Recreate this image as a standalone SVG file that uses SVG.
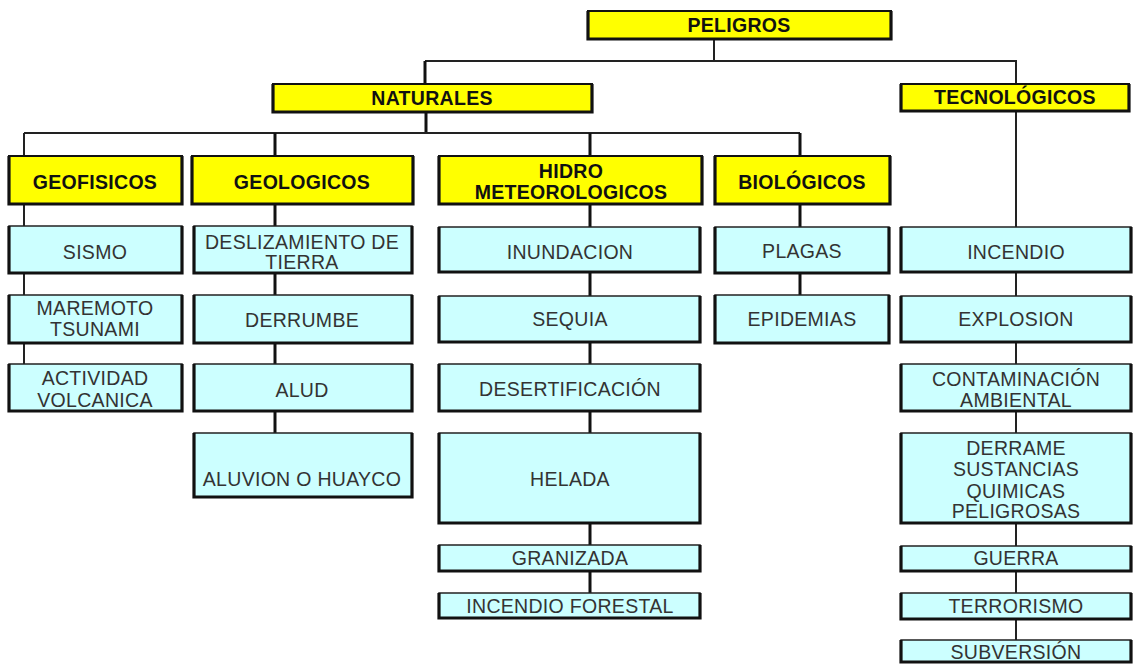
<svg xmlns="http://www.w3.org/2000/svg" width="1134" height="664" viewBox="0 0 1134 664">
<style>
.bg{fill:#ffffff}
.h rect{fill:#ffff00;stroke:#111;stroke-width:2}
.c rect{fill:#ccffff;stroke:#222;stroke-width:1.5}
.edge{fill:none;stroke:#111;stroke-width:3.2}
.h text{font-family:"Liberation Sans",Arial,sans-serif;font-size:19.5px;font-weight:bold;fill:#111;text-anchor:middle;letter-spacing:0.3px}
.c text{font-family:"Liberation Sans",Arial,sans-serif;font-size:19.5px;fill:#333;text-anchor:middle;letter-spacing:0.3px}
.thin{fill:none;stroke:#222;stroke-width:2}
.thick{fill:none;stroke:#111;stroke-width:3}
</style>
<rect class="bg" x="0" y="0" width="1134" height="664"/>
<g id="connectors">
<path class="thin" d="M714,39 V61 M425,61 H1016 V84"/>
<path class="thick" d="M425,61 V84"/>
<path class="thick" d="M426,112 V133"/>
<path class="thin" d="M24,133 H800"/>
<path class="thin" d="M24,133 V156"/>
<path class="thick" d="M275,133 V156 M590,133 V156 M800,133 V156"/>
<path class="thin" d="M24,204 V364"/>
<path class="thick" d="M275,204 V433"/>
<path class="thick" d="M590,204 V593"/>
<path class="thick" d="M800,204 V295"/>
<path class="thin" d="M1016,111 V640"/>
</g>
<g id="peligros" class="h"><rect x="588" y="11" width="303" height="28"/><path class="edge" d="M588,11 V39 H891 V11"/><text x="739" y="32">PELIGROS</text></g>
<g id="naturales" class="h"><rect x="273" y="84" width="319" height="28"/><path class="edge" d="M273,84 V112 H592 V84"/><text x="432" y="105">NATURALES</text></g>
<g id="tecnologicos" class="h"><rect x="901" y="84" width="228" height="27"/><path class="edge" d="M901,84 V111 H1129 V84"/><text x="1015" y="104">TECNOLÓGICOS</text></g>
<g id="geofisicos" class="h"><rect x="9" y="156" width="173" height="48"/><path class="edge" d="M9,156 V204 H182 V156"/><text x="95" y="189">GEOFISICOS</text></g>
<g id="geologicos" class="h"><rect x="192" y="156" width="221" height="48"/><path class="edge" d="M192,156 V204 H413 V156"/><text x="302" y="189">GEOLOGICOS</text></g>
<g id="hidro" class="h"><rect x="439" y="156" width="263" height="48"/><path class="edge" d="M439,156 V204 H702 V156"/><text x="571" y="178">HIDRO</text><text x="571" y="199">METEOROLOGICOS</text></g>
<g id="biologicos" class="h"><rect x="715" y="156" width="175" height="48"/><path class="edge" d="M715,156 V204 H890 V156"/><text x="802" y="189">BIOLÓGICOS</text></g>

<g id="sismo" class="c"><rect x="9" y="226" width="173" height="47"/><path class="edge" d="M9,226 V273 H182 V226"/><text x="95" y="259">SISMO</text></g>
<g id="maremoto" class="c"><rect x="9" y="295" width="173" height="48"/><path class="edge" d="M9,295 V343 H182 V295"/><text x="95" y="315">MAREMOTO</text><text x="95" y="336">TSUNAMI</text></g>
<g id="actividad" class="c"><rect x="9" y="364" width="173" height="47"/><path class="edge" d="M9,364 V411 H182 V364"/><text x="95" y="385">ACTIVIDAD</text><text x="95" y="407">VOLCANICA</text></g>

<g id="deslizamiento" class="c"><rect x="194" y="226" width="218" height="47"/><path class="edge" d="M194,226 V273 H412 V226"/><text x="302" y="249">DESLIZAMIENTO DE</text><text x="302" y="269">TIERRA</text></g>
<g id="derrumbe" class="c"><rect x="194" y="295" width="218" height="48"/><path class="edge" d="M194,295 V343 H412 V295"/><text x="302" y="327">DERRUMBE</text></g>
<g id="alud" class="c"><rect x="194" y="364" width="218" height="47"/><path class="edge" d="M194,364 V411 H412 V364"/><text x="302" y="397">ALUD</text></g>
<g id="aluvion" class="c"><rect x="194" y="433" width="218" height="64"/><path class="edge" d="M194,433 V497 H412 V433"/><text x="302" y="486">ALUVION O HUAYCO</text></g>

<g id="inundacion" class="c"><rect x="439" y="227" width="261" height="45"/><path class="edge" d="M439,227 V272 H700 V227"/><text x="570" y="259">INUNDACION</text></g>
<g id="sequia" class="c"><rect x="439" y="296" width="261" height="46"/><path class="edge" d="M439,296 V342 H700 V296"/><text x="570" y="326">SEQUIA</text></g>
<g id="desertificacion" class="c"><rect x="439" y="364" width="261" height="47"/><path class="edge" d="M439,364 V411 H700 V364"/><text x="570" y="396">DESERTIFICACIÓN</text></g>
<g id="helada" class="c"><rect x="439" y="433" width="261" height="90"/><path class="edge" d="M439,433 V523 H700 V433"/><text x="570" y="486">HELADA</text></g>
<g id="granizada" class="c"><rect x="439" y="545" width="261" height="26"/><path class="edge" d="M439,545 V571 H700 V545"/><text x="570" y="565">GRANIZADA</text></g>
<g id="incendioforestal" class="c"><rect x="439" y="593" width="261" height="25"/><path class="edge" d="M439,593 V618 H700 V593"/><text x="570" y="613">INCENDIO FORESTAL</text></g>

<g id="plagas" class="c"><rect x="715" y="227" width="174" height="46"/><path class="edge" d="M715,227 V273 H889 V227"/><text x="802" y="258">PLAGAS</text></g>
<g id="epidemias" class="c"><rect x="715" y="295" width="174" height="48"/><path class="edge" d="M715,295 V343 H889 V295"/><text x="802" y="326">EPIDEMIAS</text></g>

<g id="incendio" class="c"><rect x="901" y="227" width="230" height="45"/><path class="edge" d="M901,227 V272 H1131 V227"/><text x="1016" y="259">INCENDIO</text></g>
<g id="explosion" class="c"><rect x="901" y="296" width="230" height="46"/><path class="edge" d="M901,296 V342 H1131 V296"/><text x="1016" y="326">EXPLOSION</text></g>
<g id="contaminacion" class="c"><rect x="901" y="364" width="230" height="47"/><path class="edge" d="M901,364 V411 H1131 V364"/><text x="1016" y="386">CONTAMINACIÓN</text><text x="1016" y="407">AMBIENTAL</text></g>
<g id="derrame" class="c"><rect x="901" y="433" width="230" height="90"/><path class="edge" d="M901,433 V523 H1131 V433"/><text x="1016" y="455">DERRAME</text><text x="1016" y="476">SUSTANCIAS</text><text x="1016" y="498">QUIMICAS</text><text x="1016" y="518">PELIGROSAS</text></g>
<g id="guerra" class="c"><rect x="901" y="546" width="230" height="25"/><path class="edge" d="M901,546 V571 H1131 V546"/><text x="1016" y="565">GUERRA</text></g>
<g id="terrorismo" class="c"><rect x="901" y="593" width="230" height="26"/><path class="edge" d="M901,593 V619 H1131 V593"/><text x="1016" y="613">TERRORISMO</text></g>
<g id="subversion" class="c"><rect x="901" y="640" width="230" height="22"/><path class="edge" d="M901,640 V662 H1131 V640"/><text x="1016" y="659">SUBVERSIÓN</text></g>
</svg>
